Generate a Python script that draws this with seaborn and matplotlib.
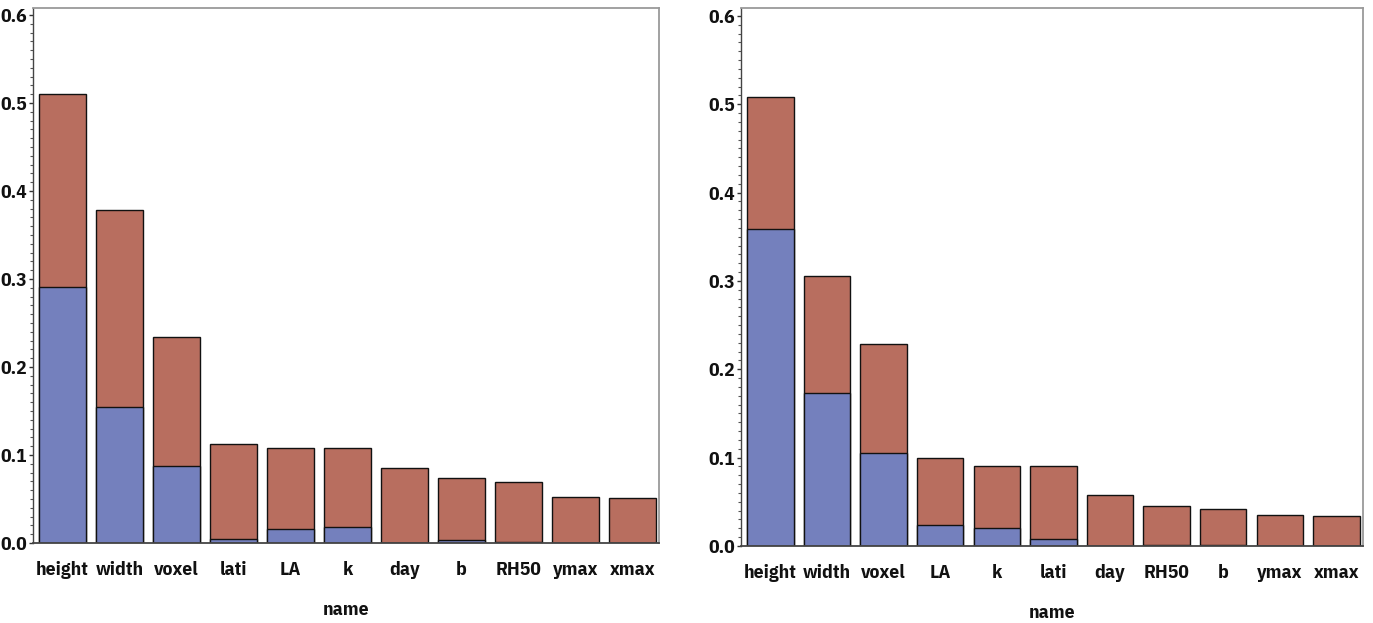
import matplotlib
matplotlib.use("Agg")
import matplotlib.pyplot as plt
from matplotlib.ticker import MultipleLocator, FormatStrFormatter
import seaborn as sns
import pandas as pd

# Left panel: variable importance split into two components
names_left = ["height", "width", "voxel", "lati", "LA", "k", "day", "b", "RH50", "ymax", "xmax"]
blue_left = [0.291, 0.155, 0.0875, 0.004, 0.016, 0.0185, 0.0, 0.003, 0.001, 0.0, 0.0]
red_left = [0.219, 0.223, 0.1465, 0.1085, 0.0916, 0.0891, 0.085, 0.0705, 0.0687, 0.0526, 0.051]

# Right panel
names_right = ["height", "width", "voxel", "LA", "k", "lati", "day", "RH50", "b", "ymax", "xmax"]
blue_right = [0.359, 0.173, 0.1057, 0.0234, 0.0208, 0.0083, 0.0, 0.001, 0.001, 0.0, 0.0]
red_right = [0.149, 0.133, 0.1233, 0.0766, 0.0702, 0.0827, 0.058, 0.044, 0.041, 0.0355, 0.0344]

yticks = [0.0, 0.1, 0.2, 0.3, 0.4, 0.5, 0.6]

BLUE = "#7480bd"
RED = "#b86e5f"

sns.set_theme(style="white")
plt.rcParams["font.family"] = ["IBM Plex Sans Condensed", "Liberation Sans", "DejaVu Sans"]

fig = plt.figure(figsize=(13.73, 6.23), dpi=100)
ax_l = fig.add_axes([0.024, 0.1284, 0.456, 0.8587])
ax_r = fig.add_axes([0.5397, 0.1236, 0.453, 0.8636])

FS = 14


def draw(ax, names, blue, red, ytop):
    df = pd.DataFrame({"name": names, "blue": blue, "red": red})
    df["total"] = df["blue"] + df["red"]
    # full stack height in red, lower component in blue drawn over it
    sns.barplot(data=df, x="name", y="total", order=names, color=RED, saturation=1,
                width=0.82, edgecolor="#111111", linewidth=1.0, ax=ax)
    sns.barplot(data=df, x="name", y="blue", order=names, color=BLUE, saturation=1,
                width=0.82, edgecolor="#111111", linewidth=1.0, ax=ax)
    ax.set_ylim(0, ytop)
    ax.set_xlim(-0.52, 10.47)
    ax.set_yticks(yticks)
    ax.yaxis.set_major_formatter(FormatStrFormatter("%.1f"))
    ax.yaxis.set_minor_locator(MultipleLocator(0.01))
    ax.tick_params(axis="y", which="major", left=True, length=3, width=1, color="#333333",
                   pad=1, labelsize=FS)
    ax.tick_params(axis="y", which="minor", left=True, length=2, width=0.8, color="#555555")
    ax.tick_params(axis="x", length=0, pad=13, labelsize=FS)
    for lab in ax.get_xticklabels() + ax.get_yticklabels():
        lab.set_fontweight("bold")
        lab.set_color("#111111")
    ax.set_xlabel("name", fontsize=FS, fontweight="bold", labelpad=16, color="#111111")
    ax.set_ylabel("")
    for side in ["top", "right"]:
        ax.spines[side].set_color("#9a9a9a")
        ax.spines[side].set_linewidth(1.3)
    ax.spines["left"].set_color("#444444")
    ax.spines["bottom"].set_color("#444444")
    ax.spines["left"].set_linewidth(1.0)
    ax.spines["bottom"].set_linewidth(1.3)


draw(ax_l, names_left, blue_left, red_left, 0.608)
draw(ax_r, names_right, blue_right, red_right, 0.609)

fig.savefig("out.png", dpi=100)
